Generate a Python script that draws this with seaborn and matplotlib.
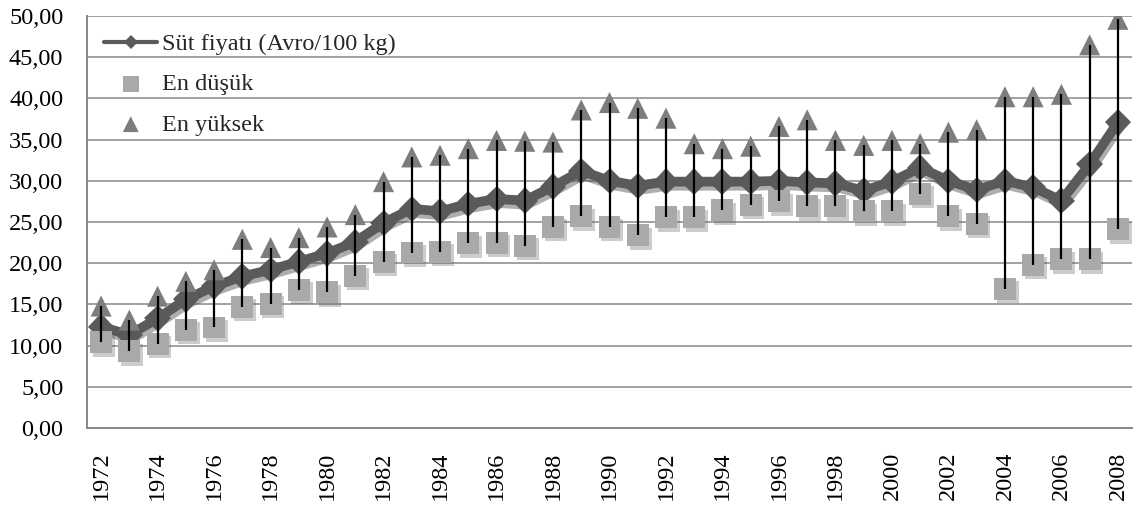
import matplotlib
matplotlib.use("Agg")
import matplotlib.pyplot as plt
import matplotlib.patheffects as pe
import seaborn as sns
import numpy as np

years = list(range(1972, 2009))
price = [12.3, 11.3, 13.3, 15.6, 17.2, 18.4, 19.2, 20.2, 21.2, 22.6,
         24.9, 26.6, 26.3, 27.2, 27.8, 27.6, 29.3, 31.2, 30.0, 29.4,
         29.9, 29.9, 29.9, 29.9, 30.0, 29.8, 29.7, 28.8, 29.9, 31.6,
         30.0, 28.9, 30.0, 29.2, 27.6, 32.0, 37.1]
low = [10.4, 9.3, 10.2, 11.9, 12.2, 14.7, 15.1, 16.8, 16.5, 18.5,
       20.2, 21.3, 21.4, 22.4, 22.5, 22.1, 24.4, 25.7, 24.4, 23.4,
       25.6, 25.6, 26.4, 27.1, 27.5, 26.9, 26.9, 26.3, 26.3, 28.4,
       25.7, 24.8, 16.9, 19.8, 20.5, 20.5, 24.1]
high = [14.8, 13.1, 16.0, 17.8, 19.2, 22.9, 21.9, 23.1, 24.4, 25.9,
        29.9, 32.9, 33.1, 33.9, 34.9, 34.8, 34.7, 38.6, 39.5, 38.8,
        37.6, 34.5, 33.9, 34.2, 36.6, 37.4, 34.9, 34.3, 34.9, 34.5,
        35.9, 36.2, 40.2, 40.2, 40.5, 46.5, 49.6]
label_price = "Süt fiyatı (Avro/100 kg)"
label_low = "En düşük"
label_high = "En yüksek"
yticks = [0, 5, 10, 15, 20, 25, 30, 35, 40, 45, 50]
xticks = list(range(1972, 2009, 2))

sns.set_theme(style="white")
plt.rcParams['font.family'] = ['Liberation Serif', 'DejaVu Serif']

fig = plt.figure(figsize=(11.4, 5.07), dpi=100)
ax = fig.add_axes([0.0763, 0.1558, 0.9167, 0.8126])

grid_c = "#878787"
for v in yticks[1:]:
    ax.axhline(v, color=grid_c, linewidth=1.1, zorder=0)

shadow = [pe.SimplePatchShadow(offset=(2, -2.5), alpha=0.3,
                               shadow_rgbFace=(0.35, 0.35, 0.35)), pe.Normal()]
line_shadow = [pe.SimpleLineShadow(offset=(1.5, -3), alpha=0.45,
                                   shadow_color=(0.3, 0.3, 0.3)), pe.Normal()]

sns.lineplot(x=years, y=price, ax=ax, color="#5a5a5a", linewidth=7,
             marker="D", markersize=13.5, markeredgewidth=0, label=label_price,
             zorder=3, path_effects=line_shadow)
sns.scatterplot(x=years, y=low, ax=ax, marker="s", s=250, color="#a9a9a9",
                edgecolor="none", linewidth=0, label=label_low, zorder=4)
sns.scatterplot(x=years, y=high, ax=ax, marker="^", s=230, color="#7d7d7d",
                edgecolor="none", linewidth=0, label=label_high, zorder=4)
ax.vlines(years, low, high, color="black", linewidth=1.6, zorder=6)

for coll in ax.collections[:2]:
    coll.set_path_effects(shadow)

ax.set_xlim(1971.5, 2008.5)
ax.set_ylim(0, 50)
ax.set_yticks(yticks)
ax.set_yticklabels([f"{v:.2f}".replace(".", ",") for v in yticks])
ax.set_xticks(xticks)
ax.set_xticklabels([str(y) for y in xticks], rotation=90)
ax.tick_params(axis="both", length=0, labelsize=17.5, colors="black")
ax.tick_params(axis="y", pad=17)
ax.tick_params(axis="x", pad=17)
ax.set_xlabel("")
ax.set_ylabel("")

for s in ["top", "right"]:
    ax.spines[s].set_visible(False)
for s in ["left", "bottom"]:
    ax.spines[s].set_color(grid_c)
    ax.spines[s].set_linewidth(1.4)

leg = ax.legend(loc="upper left", bbox_to_anchor=(0.0, 1.0), frameon=False,
                fontsize=17.5, handlelength=2.2, handletextpad=0.2,
                labelspacing=0.75, borderaxespad=0.2, borderpad=0.5)
hs = leg.legend_handles
hs[0].set_path_effects([])
hs[0].set_linewidth(3)
hs[0].set_markersize(7.5)
for h in hs[1:]:
    h.set_path_effects([])
    h.set_sizes([130])

fig.savefig("out.png", dpi=100)
